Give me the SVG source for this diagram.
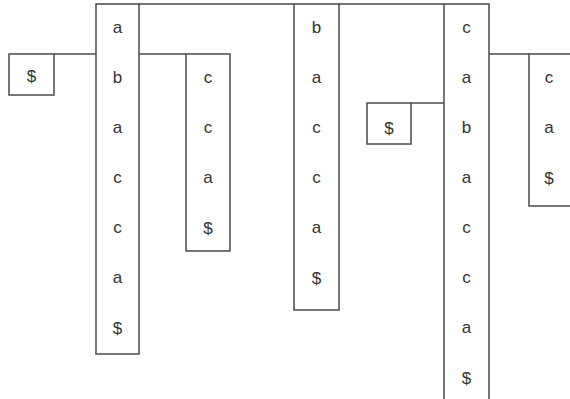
<svg xmlns="http://www.w3.org/2000/svg" width="570" height="399" viewBox="0 0 570 399">
<style>
rect{fill:#fff;stroke:#4a4a4a;stroke-width:1.5}
line{stroke:#4a4a4a;stroke-width:1.5}
text{font-family:"Liberation Sans",Arial,sans-serif;font-size:17px;fill:#333;text-anchor:middle}
</style>
<rect x="0" y="0" width="570" height="399" style="stroke:none"/>
<g id="connectors">
<line x1="139" y1="4" x2="294" y2="4"/>
<line x1="339" y1="4" x2="444" y2="4"/>
<line x1="54" y1="54" x2="96" y2="54"/>
<line x1="139" y1="54" x2="186" y2="54"/>
<line x1="411" y1="103" x2="444" y2="103"/>
<line x1="489" y1="54" x2="529" y2="54"/>
</g>
<g id="dollar1">
<rect x="9" y="54" width="45" height="41"/>
<text x="31.5" y="82">$</text>
</g>
<g id="nodeA">
<rect x="96" y="4" width="43" height="350"/>
<text x="117.5" y="33">a</text><text x="117.5" y="83">b</text><text x="117.5" y="133">a</text><text x="117.5" y="183">c</text><text x="117.5" y="233">c</text><text x="117.5" y="283">a</text><text x="117.5" y="334">$</text>
</g>
<g id="nodeC">
<rect x="186" y="54" width="44" height="197"/>
<text x="208" y="83">c</text><text x="208" y="133">c</text><text x="208" y="183">a</text><text x="208" y="234">$</text>
</g>
<g id="nodeB">
<rect x="294" y="4" width="45" height="306"/>
<text x="316.5" y="33">b</text><text x="316.5" y="83">a</text><text x="316.5" y="133">c</text><text x="316.5" y="183">c</text><text x="316.5" y="233">a</text><text x="316.5" y="284">$</text>
</g>
<g id="dollar2">
<rect x="367" y="103" width="44" height="41"/>
<text x="389" y="134">$</text>
</g>
<g id="nodeD">
<rect x="444" y="4" width="45" height="410"/>
<text x="466.5" y="33">c</text><text x="466.5" y="83">a</text><text x="466.5" y="133">b</text><text x="466.5" y="183">a</text><text x="466.5" y="233">c</text><text x="466.5" y="283">c</text><text x="466.5" y="333">a</text><text x="466.5" y="384">$</text>
</g>
<g id="nodeE">
<rect x="529" y="54" width="45" height="152"/>
<text x="549" y="83">c</text><text x="549" y="133">a</text><text x="549" y="184">$</text>
</g>
</svg>
